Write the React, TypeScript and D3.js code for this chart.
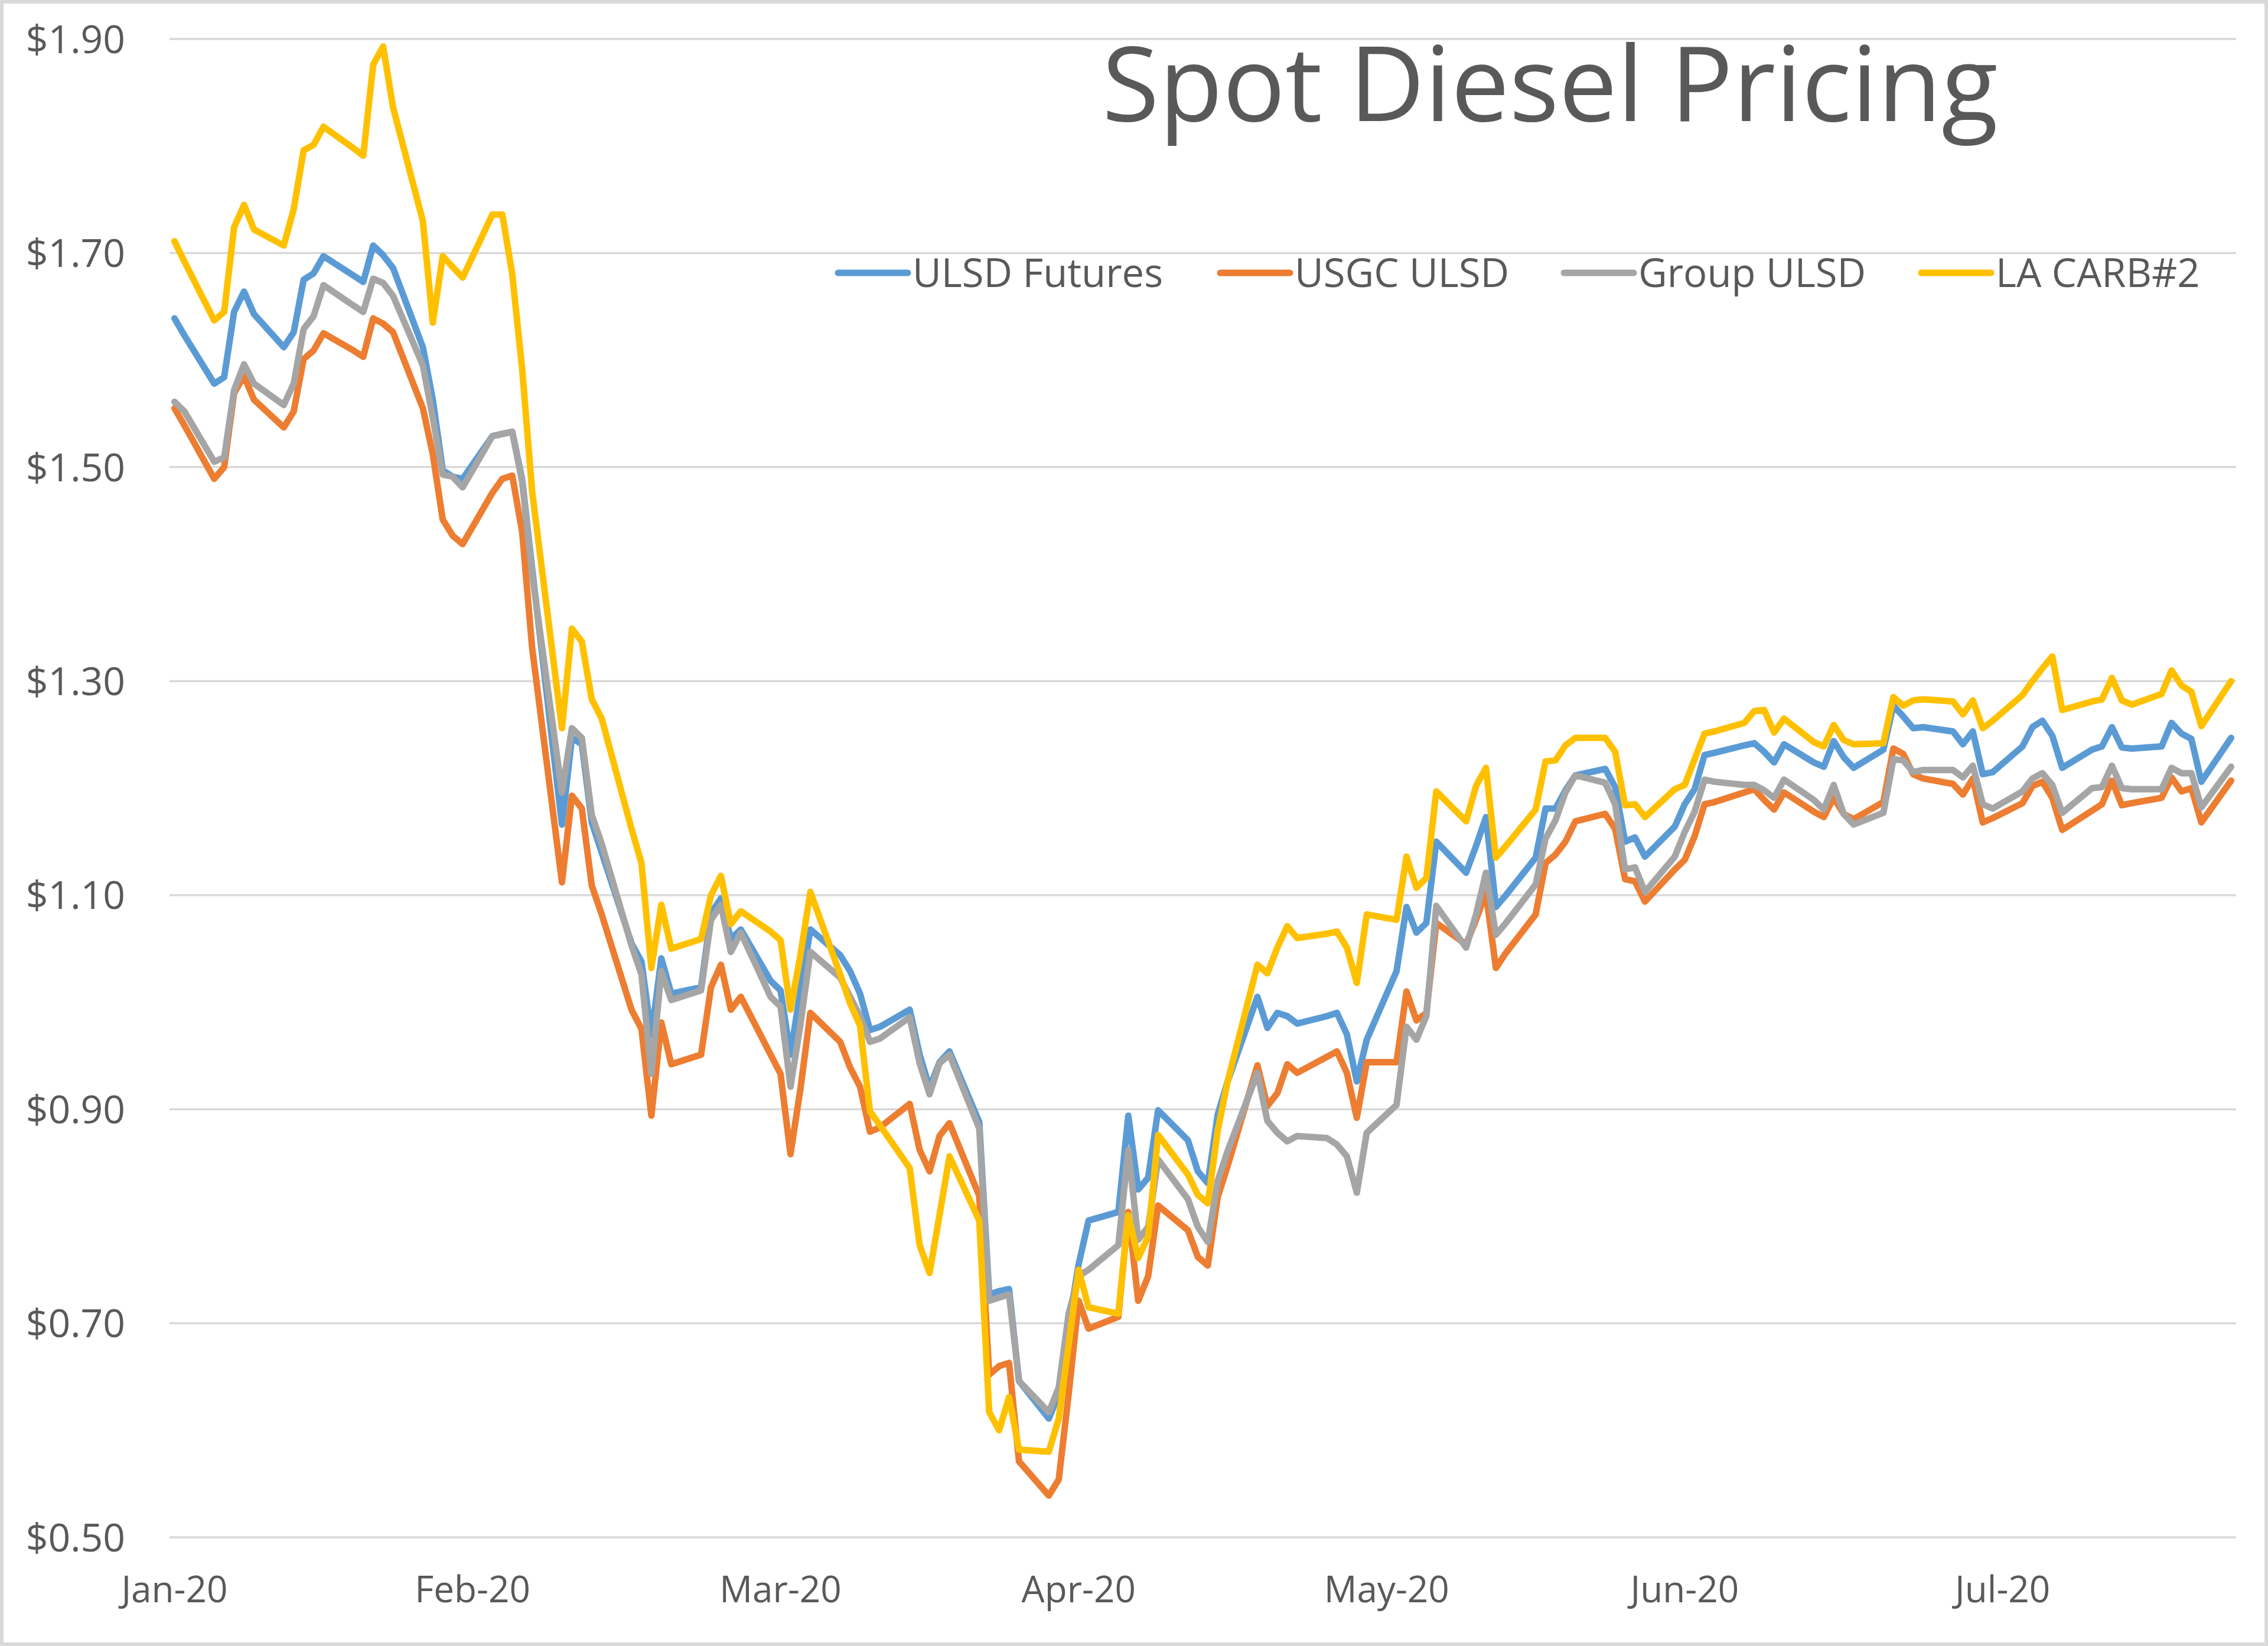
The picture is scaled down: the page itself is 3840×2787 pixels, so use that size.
import React from "react";
import * as d3 from "d3";

// ---------- DATA ----------
const DATES = [
  "2020-01-02","2020-01-03","2020-01-06","2020-01-07","2020-01-08","2020-01-09","2020-01-10","2020-01-13","2020-01-14","2020-01-15","2020-01-16","2020-01-17","2020-01-20","2020-01-21","2020-01-22","2020-01-23","2020-01-24","2020-01-27","2020-01-28","2020-01-29","2020-01-30","2020-01-31",
  "2020-02-03","2020-02-04","2020-02-05","2020-02-06","2020-02-07","2020-02-10","2020-02-11","2020-02-12","2020-02-13","2020-02-14","2020-02-17","2020-02-18","2020-02-19","2020-02-20","2020-02-21","2020-02-24","2020-02-25","2020-02-26","2020-02-27","2020-02-28",
  "2020-03-02","2020-03-03","2020-03-04","2020-03-05","2020-03-06","2020-03-09","2020-03-10","2020-03-11","2020-03-12","2020-03-13","2020-03-16","2020-03-17","2020-03-18","2020-03-19","2020-03-20","2020-03-23","2020-03-24","2020-03-25","2020-03-26","2020-03-27","2020-03-30","2020-03-31",
  "2020-04-01","2020-04-02","2020-04-03","2020-04-06","2020-04-07","2020-04-08","2020-04-09","2020-04-10","2020-04-13","2020-04-14","2020-04-15","2020-04-16","2020-04-17","2020-04-20","2020-04-21","2020-04-22","2020-04-23","2020-04-24","2020-04-27","2020-04-28","2020-04-29","2020-04-30",
  "2020-05-01","2020-05-04","2020-05-05","2020-05-06","2020-05-07","2020-05-08","2020-05-11","2020-05-12","2020-05-13","2020-05-14","2020-05-15","2020-05-18","2020-05-19","2020-05-20","2020-05-21","2020-05-22","2020-05-25","2020-05-26","2020-05-27","2020-05-28","2020-05-29",
  "2020-06-01","2020-06-02","2020-06-03","2020-06-04","2020-06-05","2020-06-08","2020-06-09","2020-06-10","2020-06-11","2020-06-12","2020-06-15","2020-06-16","2020-06-17","2020-06-18","2020-06-19","2020-06-22","2020-06-23","2020-06-24","2020-06-25","2020-06-26","2020-06-29","2020-06-30",
  "2020-07-01","2020-07-02","2020-07-03","2020-07-06","2020-07-07","2020-07-08","2020-07-09","2020-07-10","2020-07-13","2020-07-14","2020-07-15","2020-07-16","2020-07-17","2020-07-20","2020-07-21","2020-07-22","2020-07-23","2020-07-24","2020-07-27",
];

const ULSD_FUTURES = [
  1.639,1.623,1.578,1.584,1.645,1.664,1.643,1.612,1.626,1.675,1.681,1.697,1.679,1.673,1.707,1.698,1.686,1.612,1.563,1.497,1.491,1.489,
  1.529,1.531,1.533,1.488,1.405,1.166,1.247,1.241,1.168,1.140,1.055,1.038,0.969,1.041,1.008,1.014,1.083,1.097,1.059,1.068,
  1.020,1.011,0.951,1.011,1.068,1.044,1.029,1.008,0.974,0.977,0.993,0.951,0.920,0.944,0.954,0.888,0.727,0.730,0.732,0.646,0.611,0.634,
  0.698,0.755,0.796,0.804,0.894,0.825,0.836,0.899,0.871,0.842,0.831,0.895,0.926,1.005,0.976,0.990,0.987,0.980,0.987,0.990,0.970,0.926,
  0.965,1.029,1.089,1.065,1.074,1.150,1.121,1.146,1.173,1.089,1.100,1.135,1.181,1.181,1.198,1.212,1.218,1.201,1.150,1.154,1.136,
  1.164,1.185,1.199,1.231,1.233,1.240,1.242,1.234,1.224,1.241,1.224,1.220,1.244,1.229,1.219,1.236,1.277,1.267,1.256,1.257,1.253,1.241,
  1.253,1.213,1.215,1.239,1.257,1.263,1.249,1.219,1.236,1.239,1.257,1.238,1.237,1.239,1.261,1.251,1.246,1.206,1.247,
];

const USGC_ULSD = [
  1.555,1.539,1.489,1.500,1.569,1.585,1.563,1.537,1.552,1.601,1.609,1.625,1.609,1.603,1.639,1.634,1.626,1.555,1.512,1.451,1.436,1.428,
  1.476,1.489,1.492,1.439,1.331,1.112,1.193,1.181,1.109,1.082,0.993,0.975,0.894,0.981,0.942,0.951,1.014,1.035,0.993,1.005,
  0.951,0.933,0.858,0.919,0.990,0.963,0.939,0.921,0.879,0.883,0.905,0.862,0.842,0.875,0.887,0.819,0.652,0.660,0.663,0.571,0.539,0.554,
  0.634,0.721,0.695,0.706,0.804,0.721,0.744,0.810,0.787,0.762,0.754,0.818,0.847,0.941,0.903,0.915,0.942,0.934,0.949,0.954,0.934,0.892,
  0.944,0.944,1.010,0.983,0.990,1.074,1.054,1.077,1.102,1.032,1.046,1.082,1.130,1.138,1.150,1.169,1.176,1.162,1.115,1.113,1.094,
  1.124,1.133,1.155,1.185,1.187,1.196,1.199,1.189,1.180,1.196,1.178,1.173,1.191,1.176,1.171,1.187,1.237,1.232,1.213,1.209,1.204,1.194,
  1.209,1.168,1.172,1.186,1.202,1.206,1.191,1.161,1.179,1.185,1.207,1.184,1.186,1.191,1.210,1.197,1.200,1.168,1.207,
];

const GROUP_ULSD = [
  1.561,1.552,1.505,1.509,1.572,1.596,1.578,1.558,1.578,1.629,1.641,1.670,1.651,1.645,1.676,1.672,1.660,1.595,1.546,1.493,1.491,1.481,
  1.529,1.531,1.533,1.486,1.400,1.196,1.256,1.247,1.175,1.148,1.053,1.026,0.933,1.029,1.002,1.011,1.077,1.091,1.047,1.065,
  1.005,0.996,0.921,0.979,1.047,1.023,1.005,0.987,0.963,0.966,0.986,0.943,0.914,0.943,0.951,0.882,0.721,0.724,0.727,0.646,0.617,0.640,
  0.709,0.744,0.750,0.773,0.862,0.778,0.790,0.853,0.816,0.790,0.776,0.833,0.861,0.934,0.889,0.878,0.870,0.875,0.873,0.867,0.856,0.822,
  0.878,0.904,0.977,0.965,0.987,1.090,1.051,1.082,1.121,1.063,1.074,1.110,1.153,1.170,1.196,1.212,1.205,1.185,1.124,1.126,1.103,
  1.136,1.159,1.178,1.208,1.206,1.203,1.203,1.198,1.191,1.208,1.189,1.180,1.203,1.176,1.166,1.177,1.227,1.226,1.215,1.217,1.217,1.210,
  1.221,1.185,1.181,1.197,1.209,1.214,1.203,1.177,1.200,1.201,1.221,1.200,1.199,1.199,1.219,1.214,1.214,1.182,1.220,
];

const LA_CARB2 = [
  1.711,1.692,1.637,1.645,1.724,1.745,1.722,1.707,1.741,1.796,1.801,1.818,1.798,1.791,1.876,1.893,1.836,1.730,1.635,1.697,1.687,1.677,
  1.736,1.736,1.680,1.591,1.477,1.256,1.349,1.337,1.283,1.265,1.162,1.130,1.032,1.091,1.050,1.059,1.100,1.118,1.073,1.085,
  1.066,1.058,0.993,1.044,1.103,1.026,0.999,0.978,0.898,0.885,0.845,0.773,0.747,0.801,0.856,0.796,0.617,0.600,0.631,0.582,0.580,0.611,
  0.680,0.750,0.715,0.709,0.801,0.761,0.781,0.876,0.839,0.820,0.812,0.880,0.926,1.035,1.027,1.051,1.071,1.060,1.064,1.066,1.051,1.018,
  1.082,1.077,1.136,1.107,1.116,1.197,1.169,1.202,1.219,1.135,1.146,1.180,1.225,1.226,1.240,1.247,1.247,1.234,1.184,1.185,1.173,
  1.199,1.203,1.227,1.251,1.253,1.261,1.272,1.273,1.252,1.265,1.243,1.239,1.259,1.245,1.241,1.242,1.285,1.277,1.282,1.283,1.281,1.269,
  1.282,1.256,1.263,1.287,1.300,1.312,1.323,1.273,1.281,1.283,1.303,1.282,1.278,1.288,1.310,1.296,1.290,1.258,1.300,
];

const SERIES_NAMES = ["ULSD Futures", "USGC ULSD", "Group ULSD", "LA CARB#2"];
const SERIES_COLORS = ["#5B9BD5", "#ED7D31", "#A5A5A5", "#FFC000"];
const SERIES_VALUES = [ULSD_FUTURES, USGC_ULSD, GROUP_ULSD, LA_CARB2];

const Y_TICKS = [0.5, 0.7, 0.9, 1.1, 1.3, 1.5, 1.7, 1.9];
const X_TICK_DATES = ["2020-01-02", "2020-02-01", "2020-03-03", "2020-04-02", "2020-05-03", "2020-06-02", "2020-07-04"];
const X_TICK_LABELS = ["Jan-20", "Feb-20", "Mar-20", "Apr-20", "May-20", "Jun-20", "Jul-20"];

const TITLE = "Spot Diesel Pricing";

// ---------- LAYOUT ----------
const W = 3840;
const H = 2787;
const PLOT = { left: 287, right: 3786, top: 66, bottom: 2603 };
const LEGEND_X = [1419, 2066, 2648, 3253];
const LEGEND_Y = 462;
const FONT = "'Open Sans', 'Noto Sans', sans-serif";
const TEXT_COLOR = "#595959";

export default function App() {
  const parse = d3.utcParse("%Y-%m-%d");
  const dates = DATES.map((s) => parse(s) as Date);
  const x = d3
    .scaleUtc()
    .domain([d3.utcHour.offset(dates[0], -12), d3.utcHour.offset(dates[dates.length - 1], 12)])
    .range([PLOT.left, PLOT.right]);
  const y = d3.scaleLinear().domain([0.5, 1.9]).range([PLOT.bottom, PLOT.top]);

  const line = d3
    .line<number>()
    .x((_, i) => x(dates[i]))
    .y((v) => y(v));

  const fmt = d3.format("$.2f");

  return (
    <svg
      width={W}
      height={H}
      viewBox={`0 0 ${W} ${H}`}
      style={{ position: "absolute", left: 0, top: 0, background: "#fff" }}
    >
      <rect x={0} y={0} width={W} height={H} fill="#ffffff" />
      <rect x={3} y={3} width={W - 6} height={H - 6} fill="none" stroke="#D9D9D9" strokeWidth={6} />

      {/* gridlines */}
      {Y_TICKS.map((t) => (
        <line
          key={"g" + t}
          x1={PLOT.left}
          x2={PLOT.right}
          y1={y(t)}
          y2={y(t)}
          stroke="#D9D9D9"
          strokeWidth={3.5}
        />
      ))}

      {/* y labels */}
      {Y_TICKS.map((t) => (
        <text
          key={"yl" + t}
          x={212}
          y={y(t)}
          dy="0.36em"
          textAnchor="end"
          fontFamily={FONT}
          fontSize={66}
          fill={TEXT_COLOR}
        >
          {fmt(t)}
        </text>
      ))}

      {/* x labels */}
      {X_TICK_DATES.map((d, i) => (
        <text
          key={"xl" + d}
          x={x(parse(d) as Date)}
          y={2713}
          textAnchor="middle"
          fontFamily={FONT}
          fontSize={62}
          fill={TEXT_COLOR}
        >
          {X_TICK_LABELS[i]}
        </text>
      ))}

      {/* series lines */}
      {SERIES_VALUES.map((vals, si) => (
        <path
          key={"s" + si}
          d={line(vals) || ""}
          fill="none"
          stroke={SERIES_COLORS[si]}
          strokeWidth={11}
          strokeLinejoin="round"
          strokeLinecap="round"
        />
      ))}

      {/* title */}
      <text x={1866} y={205} fontFamily={FONT} fontSize={176} fill={TEXT_COLOR}>
        {TITLE}
      </text>

      {/* legend */}
      {SERIES_NAMES.map((name, i) => (
        <g key={"lg" + i}>
          <line
            x1={LEGEND_X[i]}
            x2={LEGEND_X[i] + 118}
            y1={LEGEND_Y}
            y2={LEGEND_Y}
            stroke={SERIES_COLORS[i]}
            strokeWidth={11}
            strokeLinecap="round"
          />
          <text
            x={LEGEND_X[i] + 126}
            y={LEGEND_Y}
            dy="0.36em"
            fontFamily={FONT}
            fontSize={67}
            fill={TEXT_COLOR}
          >
            {name}
          </text>
        </g>
      ))}
    </svg>
  );
}
